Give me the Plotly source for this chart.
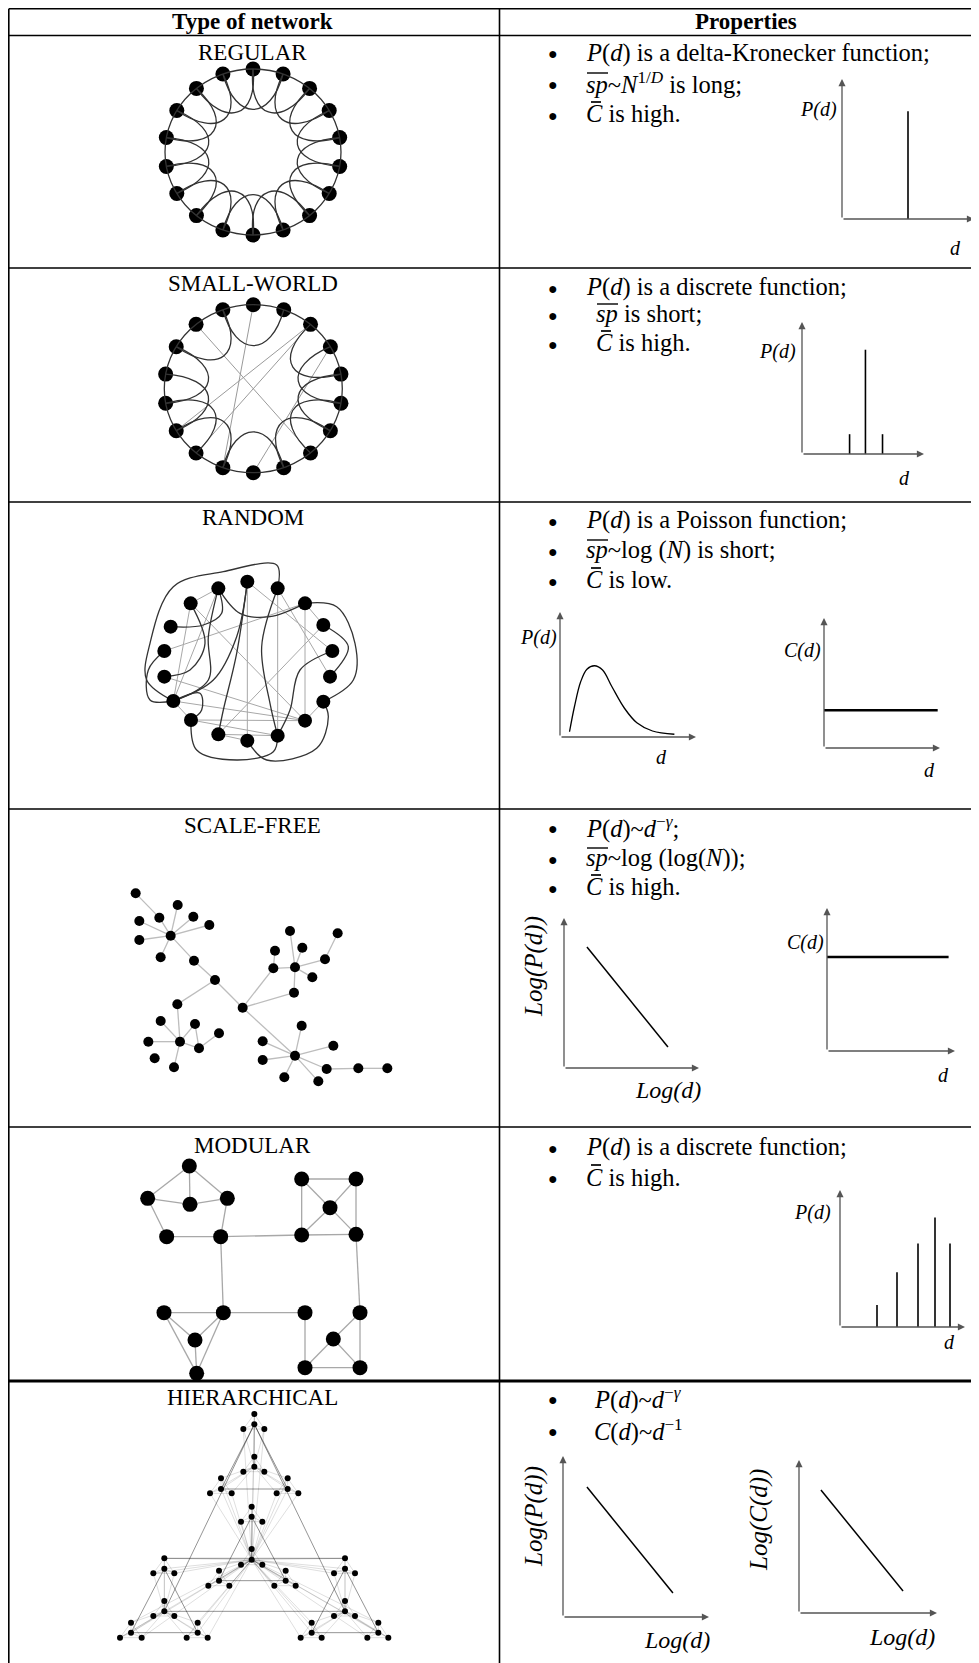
import math
import plotly.graph_objects as go

W, H = 979, 1663          # reference picture size
OFF = 8                   # page body margin of the html page
FW, FH = W - OFF, H - OFF # figure size so that picture coords line up with the page
SERIF = "Liberation Serif"

# ============================ DATA ============================
header_titles = ["Type of network", "Properties"]
row_titles = ["REGULAR", "SMALL-WORLD", "RANDOM", "SCALE-FREE", "MODULAR", "HIERARCHICAL"]

SP = "<i>sp</i>"
CB = "<i>C</i>"
PD = "<i>P</i>(<i>d</i>)"
properties = [
    [PD + " is a delta-Kronecker function;", SP + "~<i>N</i><sup>1/<i>D</i></sup> is long;", CB + " is high."],
    [PD + " is a discrete function;", SP + " is short;", CB + " is high."],
    [PD + " is a Poisson function;", SP + "~log (<i>N</i>) is short;", CB + " is low."],
    [PD + "~<i>d</i><sup>−<i>γ</i></sup>;", SP + "~log (log(<i>N</i>));", CB + " is high."],
    [PD + " is a discrete function;", CB + " is high."],
    [PD + "~<i>d</i><sup>−<i>γ</i></sup>", "<i>C</i>(<i>d</i>)~<i>d</i><sup>−1</sup>"],
]
# which property lines start with a barred symbol: 'sp' or 'C'
property_bars = [
    [None, "sp", "C"],
    [None, "sp", "C"],
    [None, "sp", "C"],
    [None, "sp", "C"],
    [None, "C"],
    [None, None],
]

# mini-chart values (axis units 0..10)
reg_d, reg_p = [5.0], [7.7]
sw_d, sw_p = [3.9, 5.2, 6.6], [1.5, 7.9, 1.5]
rnd_d = [0.70, 1.06, 1.52, 1.98, 2.53, 3.13, 3.82, 4.74, 5.65, 6.80, 8.41]
rnd_p = [0.42, 2.42, 4.42, 5.42, 5.70, 5.36, 4.02, 2.30, 1.14, 0.48, 0.22]
rnd_cd, rnd_c = [0.0, 9.8], [2.9, 2.9]
sf_logd, sf_logp = [1.7, 7.7], [8.07, 1.4]
sf_cd, sf_c = [0.0, 9.5], [6.57, 6.57]
mod_d, mod_p = [2.96, 4.56, 6.24, 7.6, 8.8], [1.6, 4.0, 6.1, 8.0, 6.1]
hi_logd, hi_logp = [1.64, 7.53], [8.07, 1.49]
hi_logd2, hi_logc = [1.59, 7.54], [8.04, 1.44]

# ring networks (unit circle coordinates)
ring_x = [0, -0.342, -0.643, -0.866, -0.985, -0.985, -0.866, -0.643, -0.342,
          0, 0.342, 0.643, 0.866, 0.985, 0.985, 0.866, 0.643, 0.342]
ring_y = [1, 0.940, 0.766, 0.5, 0.174, -0.174, -0.5, -0.766, -0.940,
          -1, -0.940, -0.766, -0.5, -0.174, 0.174, 0.5, 0.766, 0.940]
reg_loops = [(i, (i + 2) % 18) for i in range(18)]
sw_loops = [(i, (i + 2) % 18) for i in [1, 3, 4, 5, 6, 8, 10, 11, 12, 13, 14, 17]]
sw_chords = [(0, 8), (2, 11), (16, 7), (15, 9), (16, 6)]

# random network (picture units)
rnd_x = [352, 265, 182, 122, 103, 103, 130, 183, 265, 352, 443, 525, 580, 600, 607, 580, 525, 443]
rnd_y = [35, 55, 100, 170, 243, 320, 393, 450, 493, 512, 497, 452, 395, 320, 243, 165, 100, 55]
rnd_straight = [(0, 9), (17, 10), (16, 11), (7, 11), (1, 2), (2, 6), (1, 6), (2, 11), (4, 16),
                (0, 14), (15, 8), (5, 11), (6, 11), (7, 10), (8, 10), (8, 9), (12, 11), (6, 7),
                (17, 13), (16, 15)]
rnd_curves = [
    ([130, 250, 320, 352], [393, 330, 200, 35]),
    ([265, 235, 235, 130], [55, 200, 330, 393]),
    ([182, 225, 180, 103], [100, 220, 300, 320]),
    ([122, 220, 275, 265], [170, 165, 130, 55]),
    ([265, 330, 420, 525], [55, 130, 140, 100]),
    ([443, 395, 420, 443], [55, 230, 400, 497]),
    ([352, 320, 280, 265], [35, 250, 420, 493]),
    ([607, 510, 480, 443], [243, 300, 420, 497]),
    ([130, 50, 60, 130, 280, 440, 443], [393, 330, 220, 50, 5, -15, 55]),
    ([525, 620, 675, 670, 580], [100, 110, 220, 330, 395]),
    ([580, 655, 600], [165, 230, 320]),
    ([183, 200, 320, 430, 443], [450, 540, 570, 545, 497]),
    ([352, 410, 560, 595, 580], [512, 570, 535, 440, 395]),
    ([103, 55, 60, 130], [243, 300, 390, 393]),
    ([130, 210, 215, 183], [393, 370, 420, 450]),
]

# scale-free network (picture units)
sf_x = [152, 47, 118, 173, 220, 268, 58, 58, 122, 222, 285, 368, 172, 180, 122, 85, 225, 237, 297, 162,
        104, 525, 510, 465, 547, 460, 577, 615, 653, 522, 525, 545, 428, 428, 640, 493, 595, 620, 715, 802]
sf_y = [167, 40, 113, 75, 110, 135, 123, 180, 232, 242, 300, 383, 373, 485, 423, 485, 432, 505, 460, 562,
        535, 262, 153, 212, 203, 265, 292, 238, 160, 338, 527, 437, 484, 540, 497, 592, 604, 567, 565, 565]
sf_edges = [(1, 2), (2, 0), (0, 3), (0, 4), (0, 5), (0, 6), (0, 7), (0, 8), (0, 9), (9, 10), (10, 11),
            (10, 12), (12, 13), (13, 14), (13, 15), (13, 16), (16, 17), (13, 17), (17, 18), (13, 19),
            (11, 25), (11, 29), (29, 21), (25, 21), (23, 25), (21, 22), (21, 24), (21, 26), (21, 27),
            (27, 28), (11, 30), (30, 31), (30, 32), (30, 33), (30, 34), (30, 35), (30, 36), (30, 37),
            (37, 38), (38, 39)]

# modular network (picture units)
mod_x = [208, 83, 210, 322, 140, 302, 545, 708, 630, 545, 708, 132, 310, 225, 230, 555, 720, 640, 555, 720]
mod_y = [78, 175, 193, 175, 290, 290, 117, 117, 203, 285, 283, 518, 518, 600, 700, 518, 518, 597, 683, 683]
mod_edges = [(0, 1), (0, 2), (0, 3), (1, 2), (2, 3), (1, 4), (3, 5), (4, 5),
             (6, 7), (6, 9), (7, 10), (9, 10), (8, 6), (8, 7), (8, 9), (8, 10),
             (5, 9), (5, 12), (10, 16), (12, 15),
             (11, 12), (11, 13), (12, 13), (13, 14), (11, 14), (12, 14),
             (15, 18), (16, 19), (18, 19), (17, 16), (17, 18), (17, 19)]

# hierarchical network (picture units): 16 modules x (top, centre, left, right)
hi_x = [463, 463, 430, 493, 463, 463, 430, 493, 363, 363, 330, 395, 563, 563, 530, 595,
        455, 455, 423, 487, 455, 455, 423, 487, 357, 357, 325, 388, 557, 557, 523, 587,
        193, 193, 160, 223, 193, 193, 160, 223, 93, 93, 60, 125, 293, 293, 260, 323,
        735, 735, 702, 765, 735, 735, 702, 765, 635, 635, 602, 665, 835, 835, 802, 865]
hi_y = [57, 88, 102, 102, 185, 215, 230, 230, 250, 282, 295, 295, 250, 282, 295, 295,
        335, 365, 380, 380, 462, 494, 509, 509, 527, 557, 572, 572, 527, 557, 572, 572,
        490, 521, 535, 535, 618, 649, 663, 663, 683, 713, 728, 728, 683, 713, 728, 728,
        490, 521, 535, 535, 618, 649, 663, 663, 683, 713, 728, 728, 683, 713, 728, 728]

# ============================ FIGURE ============================
fig = go.Figure()
shapes = []
annotations = []
axis_n = [0]


def px_x(v):
    return (v - OFF) / FW


def px_y(v):
    return 1 - (v - OFF) / FH


def new_axes(x0, x1, y_top, y_bot, xr, yr, reverse_y=False):
    axis_n[0] += 1
    n = axis_n[0]
    s = "" if n == 1 else str(n)
    fig.update_layout({
        "xaxis" + s: dict(domain=[max(0, px_x(x0)), min(1, px_x(x1))], range=list(xr), visible=False,
                          anchor="y" + s, fixedrange=True),
        "yaxis" + s: dict(domain=[max(0, px_y(y_bot)), min(1, px_y(y_top))],
                          range=[yr[1], yr[0]] if reverse_y else list(yr), visible=False,
                          anchor="x" + s, fixedrange=True),
    })
    return "x" + s, "y" + s


def txt(x, y, text, size=24, xanchor="center", angle=0, color="black"):
    annotations.append(dict(x=px_x(x), y=px_y(y), xref="paper", yref="paper", text=text,
                            showarrow=False, xanchor=xanchor, yanchor="middle", textangle=angle,
                            font=dict(family=SERIF, size=size, color=color)))


def pline(x0, y0, x1, y1, w=1.6, color="black"):
    shapes.append(dict(type="line", xref="paper", yref="paper", x0=px_x(x0), x1=px_x(x1),
                       y0=px_y(y0), y1=px_y(y1), line=dict(color=color, width=w)))


def seg_trace(xa, ya, xs, ys, edges, color, width):
    X, Y = [], []
    for a, b in edges:
        X += [xs[a], xs[b], None]
        Y += [ys[a], ys[b], None]
    fig.add_trace(go.Scatter(x=X, y=Y, xaxis=xa, yaxis=ya, mode="lines", hoverinfo="skip",
                             line=dict(color=color, width=width), cliponaxis=False))


def node_trace(xa, ya, xs, ys, size):
    fig.add_trace(go.Scatter(x=xs, y=ys, xaxis=xa, yaxis=ya, mode="markers", hoverinfo="skip",
                             marker=dict(color="black", size=size), cliponaxis=False))


def arrow(xa, ya, x, y, ax, ay):
    annotations.append(dict(x=x, y=y, ax=ax, ay=ay, xref=xa, yref=ya, axref=xa, ayref=ya,
                            showarrow=True, arrowhead=2, arrowsize=1.1, arrowwidth=1.3,
                            arrowcolor="#555555", text=""))


def mini_axes(ox, oy, xend, ytop):
    xa, ya = new_axes(ox, xend, ytop, oy, (0, 10), (0, 10))
    arrow(xa, ya, 10, 0, 0, 0)
    arrow(xa, ya, 0, 10, 0, 0)
    return xa, ya


def spikes(xa, ya, ds, ps, width=1.6):
    X, Y = [], []
    for d, p in zip(ds, ps):
        X += [d, d, None]
        Y += [0, p, None]
    fig.add_trace(go.Scatter(x=X, y=Y, xaxis=xa, yaxis=ya, mode="lines", hoverinfo="skip",
                             line=dict(color="black", width=width), cliponaxis=False))


def rot(x, y, deg):
    a = math.radians(deg)
    return x * math.cos(a) - y * math.sin(a), x * math.sin(a) + y * math.cos(a)


def ring_network(cx, cy, rx, ry, loops, chords):
    pad = 1.2
    xa, ya = new_axes(cx - pad * rx, cx + pad * rx, cy - pad * ry, cy + pad * ry, (-pad, pad), (-pad, pad))
    shapes.append(dict(type="circle", xref=xa, yref=ya, x0=-1, x1=1, y0=-1, y1=1,
                       line=dict(color="#333333", width=1.3)))
    for i, j in loops:
        x0, y0 = ring_x[i], ring_y[i]
        x3, y3 = ring_x[j], ring_y[j]
        c1 = rot(0.42 * x0, 0.42 * y0, -8)
        c2 = rot(0.42 * x3, 0.42 * y3, 8)
        path = f"M {x0},{y0} C {c1[0]:.4f},{c1[1]:.4f} {c2[0]:.4f},{c2[1]:.4f} {x3},{y3}"
        shapes.append(dict(type="path", xref=xa, yref=ya, path=path,
                           line=dict(color="#333333", width=1.3)))
    if chords:
        seg_trace(xa, ya, ring_x, ring_y, chords, "#9a9a9a", 1.0)
    node_trace(xa, ya, ring_x, ring_y, 15)


# ---------------- table frame ----------------
TOP, HEAD = 8.8, 35.5
ROW_LINES = [268, 502, 809, 1127, 1381]
LEFT, MID, RIGHT = 8.8, 499.5, 977.5
pline(LEFT, TOP, RIGHT, TOP)
pline(LEFT, HEAD, RIGHT, HEAD)
for k, yl in enumerate(ROW_LINES):
    pline(LEFT, yl, RIGHT, yl, 3 if k == len(ROW_LINES) - 1 else 1.6)
for xv in (LEFT, MID, RIGHT):
    pline(xv, TOP, xv, H + 5)

txt(253, 21, "<b>" + header_titles[0] + "</b>", 23)
txt(746, 21, "<b>" + header_titles[1] + "</b>", 23)

title_y = [53, 283, 517, 825, 1145, 1397]
for t, yy in zip(row_titles, title_y):
    txt(253, yy, t, 23)

prop_y = [[53, 83, 114], [287, 314, 343], [520, 550, 580], [827, 858, 887], [1147, 1177], [1398, 1430]]
prop_x = [[584, 584, 584], [584, 594, 594], [584, 584, 584], [584, 584, 584], [584, 584], [592, 592]]
for lines, ys, xs, bars in zip(properties, prop_y, prop_x, property_bars):
    for line, yy, xx, bar in zip(lines, ys, xs, bars):
        txt(553, yy + 1, "●", 16)
        txt(xx, yy, line, 24.5, xanchor="left")
        if bar == "sp":
            pline(xx + 3, yy - 10, xx + 24, yy - 10, 1.4)
        elif bar == "C":
            pline(xx + 7, yy - 12, xx + 17, yy - 12, 1.7)

# ---------------- networks ----------------
ring_network(253, 152, 88, 83, reg_loops, [])
ring_network(253.3, 388.7, 89, 84, sw_loops, sw_chords)

# random
xa, ya = new_axes(130 - 20, 130 + 260, 570 - 20, 570 + 220, (-60, 780), (-60, 660), reverse_y=True)
seg_trace(xa, ya, rnd_x, rnd_y, rnd_straight, "#a8a8a8", 1.0)
for cxs, cys in rnd_curves:
    fig.add_trace(go.Scatter(x=cxs, y=cys, xaxis=xa, yaxis=ya, mode="lines", hoverinfo="skip",
                             line=dict(color="#333333", width=1.3, shape="spline", smoothing=1.0),
                             cliponaxis=False))
node_trace(xa, ya, rnd_x, rnd_y, 14)

# scale-free
xa, ya = new_axes(120, 420, 880, 1110, (0, 900), (0, 690), reverse_y=True)
seg_trace(xa, ya, sf_x, sf_y, sf_edges, "#bdbdbd", 1.3)
node_trace(xa, ya, sf_x, sf_y, 10)

# modular
xa, ya = new_axes(120, 380, 1140, 1385, (0, 780), (0, 735), reverse_y=True)
seg_trace(xa, ya, mod_x, mod_y, mod_edges, "#a8a8a8", 1.3)
node_trace(xa, ya, mod_x, mod_y, 15)

# hierarchical
xa, ya = new_axes(100, 410, 1395, 1663, (0, 930), (0, 804), reverse_y=True)
light, medium = [], []
for m in range(16):
    b = 4 * m
    t, c, l, r = b, b + 1, b + 2, b + 3
    light += [(c, t), (c, l), (c, r), (t, l), (t, r), (l, r)]
for k in range(4):
    hub = 4 * (4 * k + 1) + 1
    per = [4 * k, 4 * k + 2, 4 * k + 3]
    for m in per:
        for q in range(4):
            light.append((4 * m + q, hub))
    medium += [(4 * per[0] + 1, 4 * per[1] + 1), (4 * per[0] + 1, 4 * per[2] + 1),
               (4 * per[1] + 1, 4 * per[2] + 1)]
ghub = 4 * 5 + 1
for k in [0, 2, 3]:
    for m in [4 * k, 4 * k + 2, 4 * k + 3]:
        for q in range(4):
            light.append((4 * m + q, ghub))
medium += [(1, 37), (1, 53), (37, 53), (32, 48)]
seg_trace(xa, ya, hi_x, hi_y, light, "rgba(0,0,0,0.13)", 1.0)
seg_trace(xa, ya, hi_x, hi_y, medium, "rgba(0,0,0,0.42)", 1.0)
node_trace(xa, ya, hi_x, hi_y, 6)

# ---------------- mini charts ----------------
# REGULAR
xa, ya = mini_axes(842, 219, 974, 79)
spikes(xa, ya, reg_d, reg_p)
txt(818, 110, "<i>P(d)</i>", 20)
txt(955, 248, "<i>d</i>", 20)

# SMALL-WORLD
xa, ya = mini_axes(802, 454, 924, 322)
spikes(xa, ya, sw_d, sw_p)
txt(777, 352, "<i>P(d)</i>", 20)
txt(904, 478, "<i>d</i>", 20)

# RANDOM P(d)
xa, ya = mini_axes(560, 737, 696, 612)
fig.add_trace(go.Scatter(x=rnd_d, y=rnd_p, xaxis=xa, yaxis=ya, mode="lines", hoverinfo="skip",
                         line=dict(color="black", width=1.3, shape="spline"), cliponaxis=False))
txt(538, 638, "<i>P(d)</i>", 20)
txt(661, 757, "<i>d</i>", 20)

# RANDOM C(d)
xa, ya = mini_axes(824, 748, 940, 618)
fig.add_trace(go.Scatter(x=rnd_cd, y=rnd_c, xaxis=xa, yaxis=ya, mode="lines", hoverinfo="skip",
                         line=dict(color="black", width=2.6), cliponaxis=False))
txt(802, 650, "<i>C(d)</i>", 20)
txt(929, 770, "<i>d</i>", 20)

# SCALE-FREE log-log
xa, ya = mini_axes(564, 1068, 699, 918)
fig.add_trace(go.Scatter(x=sf_logd, y=sf_logp, xaxis=xa, yaxis=ya, mode="lines", hoverinfo="skip",
                         line=dict(color="black", width=1.5), cliponaxis=False))
txt(534, 967, "<i>Log(P(d))</i>", 25, angle=-90)
txt(668, 1090, "<i>Log(d)</i>", 24)

# SCALE-FREE C(d)
xa, ya = mini_axes(827, 1051, 955, 908)
fig.add_trace(go.Scatter(x=sf_cd, y=sf_c, xaxis=xa, yaxis=ya, mode="lines", hoverinfo="skip",
                         line=dict(color="black", width=2.6), cliponaxis=False))
txt(805, 942, "<i>C(d)</i>", 20)
txt(943, 1075, "<i>d</i>", 20)

# MODULAR
xa, ya = mini_axes(840, 1327, 965, 1190)
spikes(xa, ya, mod_d, mod_p)
txt(812, 1212, "<i>P(d)</i>", 20)
txt(949, 1342, "<i>d</i>", 20)

# HIERARCHICAL log P
xa, ya = mini_axes(563, 1617, 709, 1456)
fig.add_trace(go.Scatter(x=hi_logd, y=hi_logp, xaxis=xa, yaxis=ya, mode="lines", hoverinfo="skip",
                         line=dict(color="black", width=1.5), cliponaxis=False))
txt(534, 1517, "<i>Log(P(d))</i>", 25, angle=-90)
txt(677, 1640, "<i>Log(d)</i>", 24)

# HIERARCHICAL log C
xa, ya = mini_axes(799, 1613, 937, 1460)
fig.add_trace(go.Scatter(x=hi_logd2, y=hi_logc, xaxis=xa, yaxis=ya, mode="lines", hoverinfo="skip",
                         line=dict(color="black", width=1.5), cliponaxis=False))
txt(759, 1520, "<i>Log(C(d))</i>", 25, angle=-90)
txt(902, 1637, "<i>Log(d)</i>", 24)

fig.update_layout(width=FW, height=FH, margin=dict(l=0, r=0, t=0, b=0),
                  paper_bgcolor="white", plot_bgcolor="rgba(0,0,0,0)", showlegend=False,
                  shapes=shapes, annotations=annotations)
fig.write_html("out.html")
